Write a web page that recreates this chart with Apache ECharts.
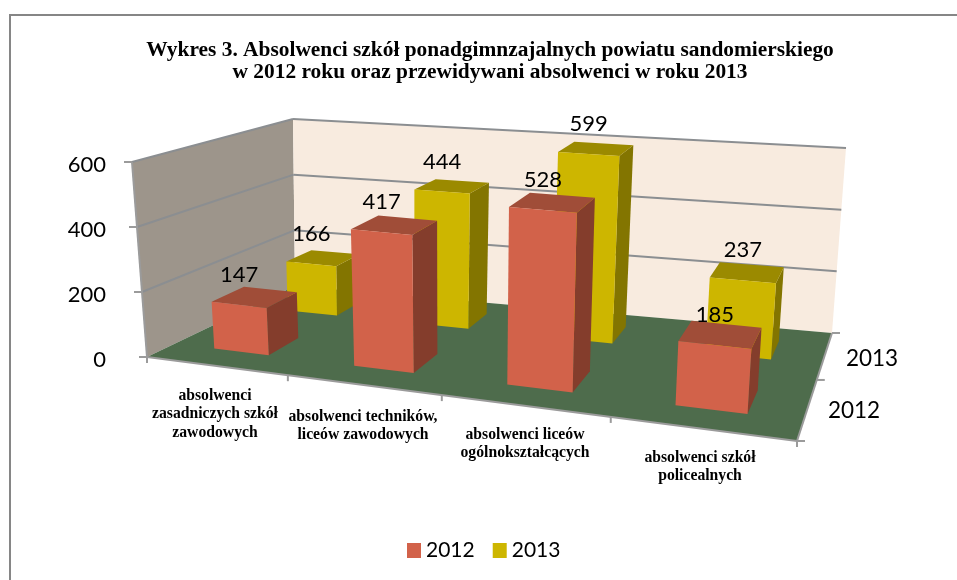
<!doctype html>
<html>
	<head>
		<meta charset="utf-8">
		<title>Wykres 3</title>
		<script src="https://cdn.jsdelivr.net/npm/echarts@6/dist/echarts.min.js"></script>
	</head>
	<body style="margin:0;padding:0;background:#fff">
		<div id="tb" style="width:957px;height:580px;"></div>
		<script>
			var categories = [
				'absolwenci\nzasadniczych szkół\nzawodowych',
				'absolwenci techników,\nliceów zawodowych',
				'absolwenci liceów\nogólnokształcących',
				'absolwenci szkół\npolicealnych'
			];
			var rows = ['2012', '2013'];
			var values2012 = [147, 417, 528, 185];
			var values2013 = [166, 444, 599, 237];
			var yTicks = [0, 200, 400, 600];
			var yMax = 600;

			// rogi podlogi i gory "pudelka" wykresu: [przod-lewo, przod-prawo, tyl-prawo, tyl-lewo]
			var floorQuad = [[147, 357], [797, 441], [832, 333], [295, 286]];
			var topQuad = [[132, 162], [812, 222], [846, 148], [293, 119]];
			// skrot perspektywiczny wzdluz kategorii i w glab
			var kx = 0.83, kz = 1.3;

			function warp(u, k) {
				return u * k / (u * k + 1 - u);
			}
			function mix(p, q, t) {
				return [p[0] + (q[0] - p[0]) * t, p[1] + (q[1] - p[1]) * t];
			}
			function quadAt(q, u, w) {
				return mix(mix(q[0], q[1], u), mix(q[3], q[2], u), w);
			}

			// x: 0..4 kategorie, z: 0..2 rzedy (0 = przod), v: wartosc
			function project(x, z, v) {
				var u = warp(x / categories.length, kx);
				var w = warp(z / rows.length, kz);
				return mix(quadAt(floorQuad, u, w), quadAt(topQuad, u, w), v / yMax);
			}

			function poly(points, color) {
				return {type: 'polygon', shape: {points: points}, style: {fill: color}};
			}
			function line(p, q, color, width) {
				return {
					type: 'line',
					shape: {x1: p[0], y1: p[1], x2: q[0], y2: q[1]},
					style: {stroke: color, lineWidth: width || 2}
				};
			}
			function label(text, x, y, font, align, lh) {
				return {
					type: 'text',
					z2: 50,
					style: {text: text, x: x, y: y, font: font, fill: '#000', align: align || 'center', verticalAlign: 'middle', lineHeight: lh || 18}
				};
			}

			var numFont = '22px Lato';
			var rowFont = '22.5px Lato';
			var catFont = 'bold 15.7px "Liberation Serif"';
			var gridColor = '#8b8e91';
			var axisColor = '#9b9b9b';
			// srodki podpisow kategorii
			var catLabelPos = [[215, 414], [363, 426], [525, 444], [700, 467]];
			var rowLabelPos = [[854, 411], [872, 359]];

			function renderBox() {
				var nx = categories.length, nz = rows.length;
				var kids = [];
				kids.push(poly([project(0, 0, 0), project(0, nz, 0), project(0, nz, yMax), project(0, 0, yMax)], '#9d958b'));
				kids.push(poly([project(0, nz, 0), project(nx, nz, 0), project(nx, nz, yMax), project(0, nz, yMax)], '#f8ebdf'));
				kids.push(poly([project(0, 0, 0), project(nx, 0, 0), project(nx, nz, 0), project(0, nz, 0)], '#4e6c4c'));
				yTicks.forEach(function(t) {
					if (t > 0) {
						kids.push(line(project(0, 0, t), project(0, nz, t), gridColor));
						kids.push(line(project(0, nz, t), project(nx, nz, t), gridColor));
					}
					var p = project(0, 0, t);
					kids.push(line([p[0] - 8, p[1]], p, axisColor));
					kids.push(label(String(t), 106, p[1] + 3, numFont, 'right'));
				});
				kids.push(line(project(0, 0, 0), project(0, 0, yMax), axisColor));
				kids.push(line(project(0, 0, 0), project(nx, 0, 0), axisColor));
				kids.push(line(project(nx, 0, 0), project(nx, nz, 0), axisColor));
				for (var i = 0; i <= nx; i++) {
					var p = project(i, 0, 0);
					kids.push(line(p, [p[0], p[1] + 6], axisColor));
				}
				for (var j = 0; j <= nz; j++) {
					var q = project(nx, j, 0);
					kids.push(line(q, [q[0] + 8, q[1]], axisColor));
				}
				categories.forEach(function(c, i) {
					kids.push(label(c, catLabelPos[i][0], catLabelPos[i][1], catFont, 'center', 18.5));
				});
				rows.forEach(function(r, i) {
					kids.push(label(r, rowLabelPos[i][0], rowLabelPos[i][1], rowFont));
				});
				return {type: 'group', children: kids};
			}

			function barRender(row, colors) {
				return function(params, api) {
					var i = api.value(0), v = api.value(1);
					var x0 = i + 0.3, x1 = i + 0.7, z0 = row + 0.3, z1 = row + 0.7;
					var a = project(x0, z0, v), b = project(x1, z0, v), c = project(x1, z1, v), d = project(x0, z1, v);
					var a0 = project(x0, z0, 0), b0 = project(x1, z0, 0), c0 = project(x1, z1, 0);
					return {
						type: 'group',
						children: [
							poly([b0, c0, c, b], colors[2]),
							poly([a, b, c, d], colors[1]),
							poly([a0, b0, b, a], colors[0]),
							label(String(v), (a[0] + b[0]) / 2, (a[1] + b[1]) / 2 - 30, numFont)
						]
					};
				};
			}
			function barData(vals) {
				return vals.map(function(v, i) { return [i, v]; });
			}

			var chart = echarts.init(document.getElementById('tb'));
			chart.setOption({
				animation: false,
				title: {
					text: 'Wykres 3. Absolwenci szkół ponadgimnzajalnych powiatu sandomierskiego\nw 2012 roku oraz przewidywani absolwenci w roku 2013',
					left: 485,
					top: 34,
					textAlign: 'center',
					textStyle: {fontFamily: 'Liberation Serif', fontWeight: 'bold', fontSize: 21.4, lineHeight: 22, color: '#000'}
				},
				legend: {
					data: ['2012', '2013'],
					left: 402,
					top: 535,
					icon: 'rect',
					itemWidth: 14,
					itemHeight: 15,
					itemGap: 18,
					selectedMode: false,
					textStyle: {fontFamily: 'Lato', fontSize: 21, color: '#000'}
				},
				graphic: [{
					type: 'rect',
					silent: true,
					// prawa i dolna krawedz ramki sa ucieta poza obrazem
					shape: {x: 10, y: 15, width: 1000, height: 600},
					style: {fill: 'none', stroke: '#868686', lineWidth: 2}
				}],
				series: [
					{type: 'custom', name: 'box', coordinateSystem: 'none', silent: true, z: 1, data: [[0]], renderItem: renderBox},
					{type: 'custom', name: '2013', coordinateSystem: 'none', z: 2, itemStyle: {color: '#cdb600'}, data: barData(values2013),
						renderItem: barRender(1, ['#cdb600', '#9b8a00', '#837500'])},
					{type: 'custom', name: '2012', coordinateSystem: 'none', z: 3, itemStyle: {color: '#d2624a'}, data: barData(values2012),
						renderItem: barRender(0, ['#d2624a', '#a04d38', '#843d2c'])}
				]
			});
		</script>
	</body>
</html>
